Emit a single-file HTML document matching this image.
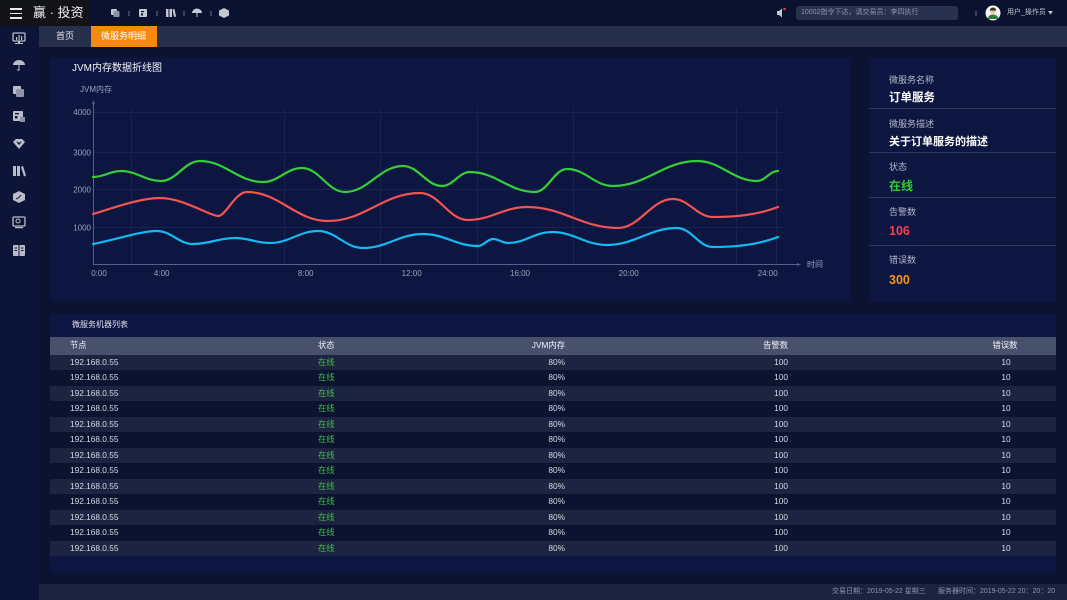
<!DOCTYPE html>
<html><head><meta charset="utf-8">
<style>
*{margin:0;padding:0;box-sizing:border-box}
body{width:1067px;height:600px;overflow:hidden;background:#0b1331;font-family:"Liberation Sans","Noto Sans CJK SC",sans-serif;position:relative}
.a{position:absolute}
.t{position:absolute;white-space:nowrap}
.row{position:absolute;left:50px;width:1006px;height:15.5px}
.row .t{line-height:15.5px;font-size:8.3px;color:#d6d9e4;top:0}
</style></head><body>
<!-- top bar -->
<div class="a" style="left:0;top:0;width:1067px;height:26px;background:#0b1230"></div>
<div class="a" style="left:0;top:0;width:90px;height:26px;background:#111316"></div>
<div class="a" style="left:10px;top:8px;width:12px;height:1.5px;background:#e8e8e8"></div>
<div class="a" style="left:10px;top:12.5px;width:12px;height:1.5px;background:#e8e8e8"></div>
<div class="a" style="left:10px;top:17px;width:12px;height:1.5px;background:#e8e8e8"></div>
<div class="t" style="left:33px;top:5px;font-size:13px;line-height:16px;color:#f0f0f0">赢 · 投资</div>
<!-- top icons -->
<svg class="a" style="left:0;top:0" width="1067" height="26">
 <g fill="#c4c8d4">
  <rect x="111" y="9" width="6" height="6" rx="1"/><rect x="113.5" y="11" width="6" height="6" rx="1" fill="#8d92a6"/>
  <rect x="139" y="9" width="8" height="8" rx="1"/><rect x="141" y="11" width="3" height="1.2" fill="#0b1230"/><rect x="141" y="13.5" width="2" height="2" fill="#0b1230"/>
  <rect x="166" y="9" width="2.5" height="8"/><rect x="169.5" y="9" width="2.5" height="8"/><polygon points="172.5,9.5 174.5,9 176,16.5 174,17"/>
  <path d="M192 13 A5 4.5 0 0 1 202 13 Z"/><rect x="196.5" y="13" width="1" height="4"/>
  <polygon points="224,8 229,10.5 229,15.5 224,18 219,15.5 219,10.5"/>
  <rect x="128.5" y="11" width="1" height="5" fill="#6a7090"/><rect x="156.5" y="11" width="1" height="5" fill="#6a7090"/><rect x="183.5" y="11" width="1" height="5" fill="#6a7090"/><rect x="210.5" y="11" width="1" height="5" fill="#6a7090"/>
  <polygon points="777,11 779,11 782,8.5 782,17.5 779,15 777,15"/><circle cx="784.5" cy="9" r="1.3" fill="#e53b3b"/>
  <rect x="975.5" y="11" width="1" height="5" fill="#6a7090"/>
  <circle cx="993" cy="13" r="7.5" fill="#f4f4f4"/><circle cx="993" cy="11" r="3" fill="#e9c6a4"/><path d="M993 7.5 a3.2 3 0 0 1 3.2 3 l-6.4 0 a3.2 3 0 0 1 3.2 -3z" fill="#3a2a1e"/><path d="M987.5 19 q1-4.5 5.5-4.5 q4.5 0 5.5 4.5 z" fill="#2f7a3a"/>
  <polygon points="1048,11 1053,11 1050.5,14.5" fill="#c4c8d4"/>
 </g>
</svg>
<div class="a" style="left:796px;top:6px;width:162px;height:14px;background:#283150;border-radius:3px"></div>
<div class="t" style="left:801px;top:6px;font-size:7px;line-height:14px;color:#8e94ab">10002指令下达，请交易员：李四执行</div>
<div class="t" style="left:1007px;top:6px;font-size:7px;line-height:14px;color:#c0c4d0">用户_操作员</div>
<!-- sidebar -->
<div class="a" style="left:0;top:26px;width:39px;height:574px;background:#0c1538"></div>
<svg class="a" style="left:0;top:26px" width="39" height="240">
 <g fill="#b8bccb">
  <rect x="13" y="7" width="12" height="8" rx="1" fill="none" stroke="#b8bccb" stroke-width="1.3"/><rect x="18" y="15" width="2" height="2"/><rect x="15" y="17" width="8" height="1"/><rect x="16" y="11" width="1.2" height="3"/><rect x="18.5" y="9" width="1.2" height="5"/><rect x="21" y="10" width="1.2" height="4"/>
  <path d="M13 39 A6 5 0 0 1 25 39 Z"/><rect x="18.5" y="39" width="1" height="5"/><path d="M17 43.5 q1.5 1.5 2.5 0" stroke="#b8bccb" fill="none"/>
  <rect x="13" y="60" width="8" height="8" rx="1"/><rect x="16" y="63" width="8" height="8" rx="1" fill="#8d92a6"/>
  <rect x="13" y="85" width="10" height="10" rx="1"/><rect x="15" y="87" width="4" height="1.3" fill="#0c1538"/><rect x="15" y="90" width="2.5" height="2.5" fill="#0c1538"/><rect x="20" y="91" width="5" height="5" fill="#8d92a6"/>
  <polygon points="13,116 16,113 22,113 25,116 19,123"/><polygon points="16.5,116 19,119 21.5,116 20.5,115.5 19,117 17.5,115.5" fill="#0c1538"/>
  <rect x="13" y="140" width="3" height="10"/><rect x="17" y="140" width="3" height="10"/><polygon points="21,141 23,140 26,149.5 24,150.5"/>
  <polygon points="19,165 25,168 25,174 19,177 13,174 13,168"/><path d="M16 173 q3 -1 5 -4" stroke="#0c1538" fill="none"/>
  <rect x="13" y="191" width="12" height="9" rx="1" fill="none" stroke="#b8bccb" stroke-width="1.3"/><circle cx="18" cy="195" r="2" fill="none" stroke="#b8bccb"/><rect x="15" y="201" width="8" height="1.2"/>
  <rect x="13" y="219" width="12" height="11" rx="1"/><rect x="18.5" y="219" width="1" height="11" fill="#0c1538"/><rect x="14.5" y="221.5" width="2.5" height="1" fill="#0c1538"/><rect x="14.5" y="224" width="2.5" height="1" fill="#0c1538"/><rect x="21" y="221.5" width="2.5" height="1" fill="#0c1538"/><rect x="21" y="224" width="2.5" height="1" fill="#0c1538"/>
 </g>
</svg>
<!-- tab bar -->
<div class="a" style="left:39px;top:26px;width:1028px;height:20.5px;background:#262f4c"></div>
<div class="t" style="left:56px;top:26px;font-size:9px;line-height:20px;color:#e6e8ee">首页</div>
<div class="a" style="left:91px;top:26px;width:66px;height:20.5px;background:#f7890f"></div>
<div class="t" style="left:101px;top:26px;font-size:9px;line-height:20px;color:#ffffff">微服务明细</div>
<!-- chart panel -->
<div class="a" style="left:50px;top:58px;width:801px;height:243px;background:#0d1641"></div>
<div class="t" style="left:72px;top:62px;font-size:10px;line-height:14px;color:#f2f3f7">JVM内存数据折线图</div>
<!-- info panel -->
<div class="a" style="left:869px;top:58px;width:187px;height:244px;background:#0d1641"></div>
<div class="a" style="left:869px;top:107.5px;width:187px;height:1px;background:#2e3859"></div>
<div class="a" style="left:869px;top:151.5px;width:187px;height:1px;background:#2e3859"></div>
<div class="a" style="left:869px;top:196.5px;width:187px;height:1px;background:#2e3859"></div>
<div class="a" style="left:869px;top:244.5px;width:187px;height:1px;background:#2e3859"></div>
<div class="t" style="left:889px;top:74px;font-size:9px;line-height:12px;color:#b4b8ca">微服务名称</div>
<div class="t" style="left:889px;top:91px;font-size:11.5px;line-height:15px;color:#ffffff;font-weight:bold">订单服务</div>
<div class="t" style="left:889px;top:118px;font-size:9px;line-height:12px;color:#b4b8ca">微服务描述</div>
<div class="t" style="left:889px;top:135px;font-size:11px;line-height:15px;color:#ffffff;font-weight:bold">关于订单服务的描述</div>
<div class="t" style="left:889px;top:161px;font-size:9px;line-height:12px;color:#b4b8ca">状态</div>
<div class="t" style="left:889px;top:179px;font-size:12px;line-height:15px;color:#2fcf2f;font-weight:bold">在线</div>
<div class="t" style="left:889px;top:205.5px;font-size:9px;line-height:12px;color:#b4b8ca">告警数</div>
<div class="t" style="left:889px;top:224px;font-size:12.5px;line-height:15px;color:#f2424a;font-weight:bold">106</div>
<div class="t" style="left:889px;top:254px;font-size:9px;line-height:12px;color:#b4b8ca">错误数</div>
<div class="t" style="left:889px;top:272.5px;font-size:12.5px;line-height:15px;color:#f7931e;font-weight:bold">300</div>
<!-- chart svg -->
<svg class="a" style="left:0;top:0" width="1067" height="600">
 <g stroke="#1a2350" stroke-width="1">
  <line x1="94" y1="112.5" x2="783" y2="112.5"/><line x1="94" y1="152.5" x2="783" y2="152.5"/><line x1="94" y1="189.5" x2="783" y2="189.5"/><line x1="94" y1="227.5" x2="783" y2="227.5"/>
  <line x1="131.5" y1="108" x2="131.5" y2="265"/><line x1="284.5" y1="108" x2="284.5" y2="265"/><line x1="380.5" y1="108" x2="380.5" y2="265"/><line x1="477.5" y1="108" x2="477.5" y2="265"/><line x1="573.5" y1="108" x2="573.5" y2="265"/><line x1="736.5" y1="108" x2="736.5" y2="265"/><line x1="776.5" y1="108" x2="776.5" y2="265"/>
 </g>
 <g stroke="#56608a" stroke-width="1">
  <line x1="93.5" y1="102" x2="93.5" y2="265"/><line x1="93" y1="264.5" x2="798" y2="264.5"/>
 </g>
 <polygon points="93.5,100 92,104 95,104" fill="#56608a"/>
 <polygon points="801,264.5 797,263 797,266" fill="#56608a"/>
 <g font-family="Liberation Sans, Noto Sans CJK SC, sans-serif" font-size="8" fill="#9ca2ba">
  <text x="80" y="92">JVM内存</text>
  <text x="91" y="115" text-anchor="end">4000</text>
  <text x="91" y="155.5" text-anchor="end">3000</text>
  <text x="91" y="192.5" text-anchor="end">2000</text>
  <text x="91" y="230.5" text-anchor="end">1000</text>
  <text x="99" y="276" text-anchor="middle">0:00</text>
  <text x="161.7" y="276" text-anchor="middle">4:00</text>
  <text x="305.7" y="276" text-anchor="middle">8:00</text>
  <text x="411.7" y="276" text-anchor="middle">12:00</text>
  <text x="520" y="276" text-anchor="middle">16:00</text>
  <text x="628.7" y="276" text-anchor="middle">20:00</text>
  <text x="767.7" y="276" text-anchor="middle">24:00</text>
  <text x="807" y="267">时间</text>
 </g>
 <g fill="none" stroke-width="2.2" stroke-linecap="round" stroke-linejoin="round">
  <path stroke="#35cf35" d="M93,177 C104.2,177 109.8,171 121,171 C137,171 145,181 161,181 C176.6,181 184.4,161 200,161 C225.2,161 237.8,182 263,182 C278.6,182 286.4,168 302,168 C319.2,168 327.8,192 345,192 C368.2,192 379.8,166 403,166 C418.6,166 426.4,186 442,186 C453.2,186 458.8,172 470,172 C496,172 509,192 535,192 C547.8,192 554.2,169 567,169 C585.4,169 594.6,186 613,186 C646.6,186 663.4,161 697,161 C721,161 733,181 757,181 C765.4,181 769.6,171 778,171"/>
  <path stroke="#f35352" d="M93,214 C110,209 140,198 160,198 C183,198 210,216 218,216 C226,216 235,192 247,192 C279.4,192 295.6,221 328,221 C364.8,221 383.2,193 420,193 C439.2,193 448.8,220 468,220 C491.6,220 503.4,207 527,207 C563.4,207 581.6,228 618,228 C640,228 651,199 673,199 C689,199 697,217 713,217 C740,217 760,214 778,207"/>
  <path stroke="#13b9f2" d="M93,244 C115,240 140,231 157,231 C171.4,231 178.6,244 193,244 C209.8,244 218.2,238 235,238 C249,238 256,243 270,243 C289.2,243 298.8,231 318,231 C336,231 345,248 363,248 C387,248 399,234 423,234 C445,234 456,246 478,246 C484,246 487,239 493,239 C499,239 502,243 508,243 C525.6,243 534.4,232 552,232 C574,232 585,245 607,245 C635,245 649,228 677,228 C691.4,228 698.6,247 713,247 C740,247 760,244 778,237"/>
 </g>
</svg>
<!-- table panel -->
<div class="a" style="left:50px;top:314px;width:1006px;height:259px;background:#0d1641"></div>
<div class="t" style="left:72px;top:319px;font-size:8px;line-height:12px;color:#e0e3ec">微服务机器列表</div>
<div class="a" style="left:50px;top:337px;width:1006px;height:17.5px;background:#47516c"></div>
<div class="t" style="left:70px;top:337px;font-size:8.3px;line-height:17.5px;color:#f0f1f5">节点</div>
<div class="t" style="left:318px;top:337px;font-size:8.3px;line-height:17.5px;color:#f0f1f5">状态</div>
<div class="t" style="left:465px;width:100px;text-align:right;top:337px;font-size:8.3px;line-height:17.5px;color:#f0f1f5">JVM内存</div>
<div class="t" style="left:688px;width:100px;text-align:right;top:337px;font-size:8.3px;line-height:17.5px;color:#f0f1f5">告警数</div>
<div class="t" style="left:975px;width:60px;text-align:center;top:337px;font-size:8.3px;line-height:17.5px;color:#f0f1f5">错误数</div>
<div class="row" style="top:354.5px;background:#1c2441"><div class="t" style="left:20px">192.168.0.55</div><div class="t" style="left:268px;color:#3cc03c">在线</div><div class="t" style="left:415px;width:100px;text-align:right">80%</div><div class="t" style="left:638px;width:100px;text-align:right">100</div><div class="t" style="left:926px;width:60px;text-align:center">10</div></div>
<div class="row" style="top:370px;background:#0b1331"><div class="t" style="left:20px">192.168.0.55</div><div class="t" style="left:268px;color:#3cc03c">在线</div><div class="t" style="left:415px;width:100px;text-align:right">80%</div><div class="t" style="left:638px;width:100px;text-align:right">100</div><div class="t" style="left:926px;width:60px;text-align:center">10</div></div>
<div class="row" style="top:385.5px;background:#1c2441"><div class="t" style="left:20px">192.168.0.55</div><div class="t" style="left:268px;color:#3cc03c">在线</div><div class="t" style="left:415px;width:100px;text-align:right">80%</div><div class="t" style="left:638px;width:100px;text-align:right">100</div><div class="t" style="left:926px;width:60px;text-align:center">10</div></div>
<div class="row" style="top:401px;background:#0b1331"><div class="t" style="left:20px">192.168.0.55</div><div class="t" style="left:268px;color:#3cc03c">在线</div><div class="t" style="left:415px;width:100px;text-align:right">80%</div><div class="t" style="left:638px;width:100px;text-align:right">100</div><div class="t" style="left:926px;width:60px;text-align:center">10</div></div>
<div class="row" style="top:416.5px;background:#1c2441"><div class="t" style="left:20px">192.168.0.55</div><div class="t" style="left:268px;color:#3cc03c">在线</div><div class="t" style="left:415px;width:100px;text-align:right">80%</div><div class="t" style="left:638px;width:100px;text-align:right">100</div><div class="t" style="left:926px;width:60px;text-align:center">10</div></div>
<div class="row" style="top:432px;background:#0b1331"><div class="t" style="left:20px">192.168.0.55</div><div class="t" style="left:268px;color:#3cc03c">在线</div><div class="t" style="left:415px;width:100px;text-align:right">80%</div><div class="t" style="left:638px;width:100px;text-align:right">100</div><div class="t" style="left:926px;width:60px;text-align:center">10</div></div>
<div class="row" style="top:447.5px;background:#1c2441"><div class="t" style="left:20px">192.168.0.55</div><div class="t" style="left:268px;color:#3cc03c">在线</div><div class="t" style="left:415px;width:100px;text-align:right">80%</div><div class="t" style="left:638px;width:100px;text-align:right">100</div><div class="t" style="left:926px;width:60px;text-align:center">10</div></div>
<div class="row" style="top:463px;background:#0b1331"><div class="t" style="left:20px">192.168.0.55</div><div class="t" style="left:268px;color:#3cc03c">在线</div><div class="t" style="left:415px;width:100px;text-align:right">80%</div><div class="t" style="left:638px;width:100px;text-align:right">100</div><div class="t" style="left:926px;width:60px;text-align:center">10</div></div>
<div class="row" style="top:478.5px;background:#1c2441"><div class="t" style="left:20px">192.168.0.55</div><div class="t" style="left:268px;color:#3cc03c">在线</div><div class="t" style="left:415px;width:100px;text-align:right">80%</div><div class="t" style="left:638px;width:100px;text-align:right">100</div><div class="t" style="left:926px;width:60px;text-align:center">10</div></div>
<div class="row" style="top:494px;background:#0b1331"><div class="t" style="left:20px">192.168.0.55</div><div class="t" style="left:268px;color:#3cc03c">在线</div><div class="t" style="left:415px;width:100px;text-align:right">80%</div><div class="t" style="left:638px;width:100px;text-align:right">100</div><div class="t" style="left:926px;width:60px;text-align:center">10</div></div>
<div class="row" style="top:509.5px;background:#1c2441"><div class="t" style="left:20px">192.168.0.55</div><div class="t" style="left:268px;color:#3cc03c">在线</div><div class="t" style="left:415px;width:100px;text-align:right">80%</div><div class="t" style="left:638px;width:100px;text-align:right">100</div><div class="t" style="left:926px;width:60px;text-align:center">10</div></div>
<div class="row" style="top:525px;background:#0b1331"><div class="t" style="left:20px">192.168.0.55</div><div class="t" style="left:268px;color:#3cc03c">在线</div><div class="t" style="left:415px;width:100px;text-align:right">80%</div><div class="t" style="left:638px;width:100px;text-align:right">100</div><div class="t" style="left:926px;width:60px;text-align:center">10</div></div>
<div class="row" style="top:540.5px;background:#1c2441"><div class="t" style="left:20px">192.168.0.55</div><div class="t" style="left:268px;color:#3cc03c">在线</div><div class="t" style="left:415px;width:100px;text-align:right">80%</div><div class="t" style="left:638px;width:100px;text-align:right">100</div><div class="t" style="left:926px;width:60px;text-align:center">10</div></div>
<!-- footer -->
<div class="a" style="left:39px;top:584px;width:1028px;height:16px;background:#1b2340"></div>
<div class="t" style="left:832px;top:584px;font-size:7px;line-height:16px;color:#8e94ab">交易日期：2019-05-22 星期三</div>
<div class="t" style="left:938px;top:584px;font-size:7px;line-height:16px;color:#8e94ab">服务器时间：2019-05-22 20：20：20</div>
</body></html>
